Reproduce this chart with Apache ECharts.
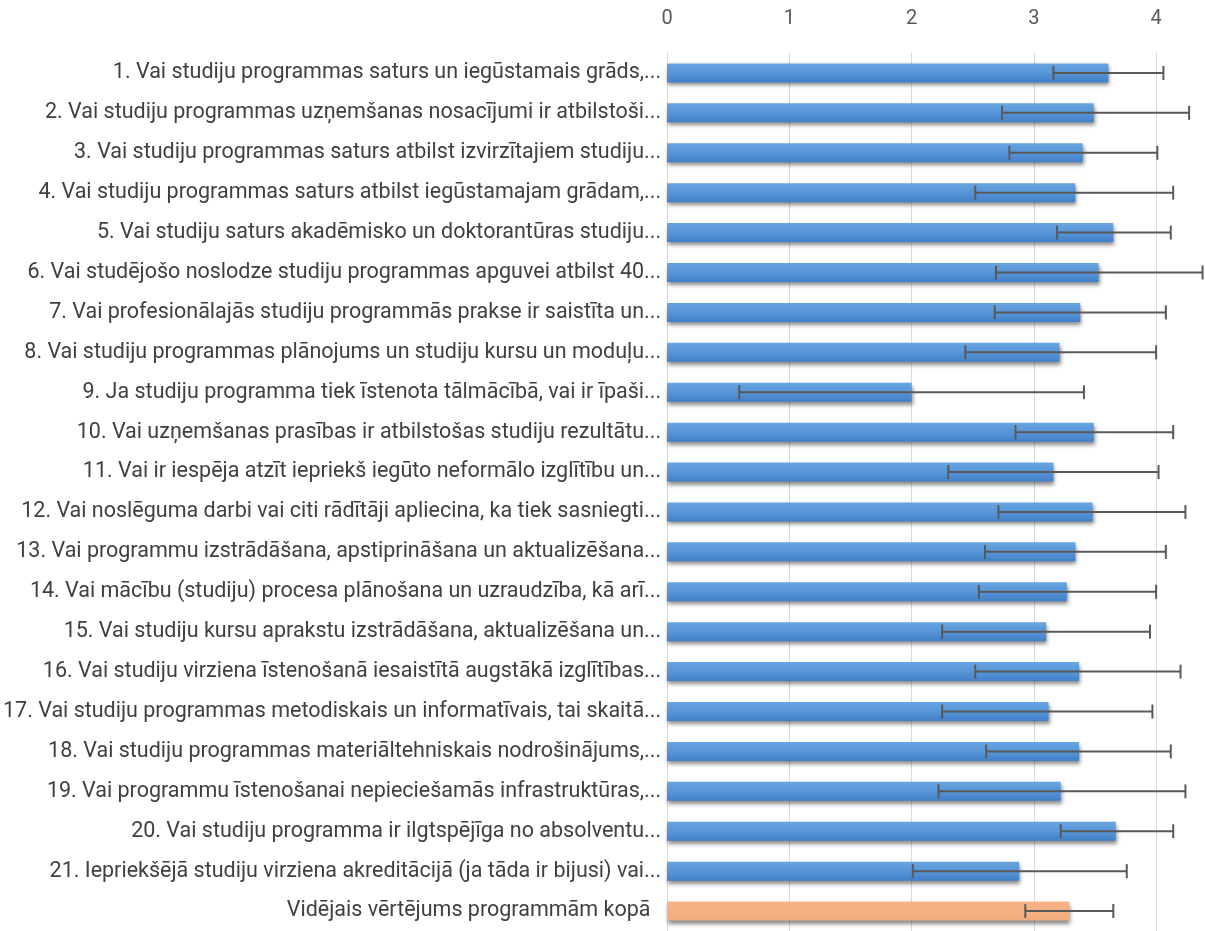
<!DOCTYPE html>
<html>
<head>
<meta charset="utf-8">
<script src="https://cdn.jsdelivr.net/npm/echarts@6/dist/echarts.min.js"></script>
<style>
html,body{margin:0;padding:0;background:#fff;}
#chart{width:1205px;height:931px;}
</style>
</head>
<body>
<div id="chart"></div>
<script>
const categories = [
  "1. Vai studiju programmas saturs un iegūstamais grāds,...",
  "2. Vai studiju programmas uzņemšanas nosacījumi ir atbilstoši...",
  "3. Vai studiju programmas saturs atbilst izvirzītajiem studiju...",
  "4. Vai studiju programmas saturs atbilst iegūstamajam grādam,...",
  "5. Vai studiju saturs akadēmisko un doktorantūras studiju...",
  "6. Vai studējošo noslodze studiju programmas apguvei atbilst 40...",
  "7. Vai profesionālajās studiju programmās prakse ir saistīta un...",
  "8. Vai studiju programmas plānojums un studiju kursu un moduļu...",
  "9. Ja studiju programma tiek īstenota tālmācībā, vai ir īpaši...",
  "10. Vai uzņemšanas prasības ir atbilstošas studiju rezultātu...",
  "11. Vai ir iespēja atzīt iepriekš iegūto neformālo izglītību un...",
  "12. Vai noslēguma darbi vai citi rādītāji apliecina, ka tiek sasniegti...",
  "13. Vai programmu izstrādāšana, apstiprināšana un aktualizēšana...",
  "14. Vai mācību (studiju) procesa plānošana un uzraudzība, kā arī...",
  "15. Vai studiju kursu aprakstu izstrādāšana, aktualizēšana un...",
  "16. Vai studiju virziena īstenošanā iesaistītā augstākā izglītības...",
  "17. Vai studiju programmas metodiskais un informatīvais, tai skaitā...",
  "18. Vai studiju programmas materiāltehniskais nodrošinājums,...",
  "19. Vai programmu īstenošanai nepieciešamās infrastruktūras,...",
  "20. Vai studiju programma ir ilgtspējīga no absolventu...",
  "21. Iepriekšējā studiju virziena akreditācijā (ja tāda ir bijusi) vai...",
  "Vidējais vērtējums programmām kopā\u00a0\u00a0"
];
const meanValues = [3.61, 3.49, 3.40, 3.34, 3.65, 3.53, 3.38, 3.21, 2.00, 3.49, 3.16,
                    3.48, 3.34, 3.27, 3.10, 3.37, 3.12, 3.37, 3.22, 3.67, 2.88, 3.29];
const errorLow  = [3.16, 2.74, 2.80, 2.52, 3.19, 2.69, 2.68, 2.44, 0.59, 2.85, 2.30,
                   2.71, 2.60, 2.55, 2.25, 2.52, 2.25, 2.61, 2.22, 3.22, 2.01, 2.93];
const errorHigh = [4.06, 4.27, 4.01, 4.14, 4.12, 4.38, 4.08, 4.00, 3.41, 4.14, 4.02,
                   4.24, 4.08, 4.00, 3.95, 4.20, 3.97, 4.12, 4.24, 4.14, 3.76, 3.65];
const xTicks = [0, 1, 2, 3, 4];

const blueGrad = new echarts.graphic.LinearGradient(0, 0, 0, 1, [
  {offset: 0, color: '#68a5e0'}, {offset: 0.5, color: '#5895d8'}, {offset: 1, color: '#4180c8'}
]);
const orangeGrad = new echarts.graphic.LinearGradient(0, 0, 0, 1, [
  {offset: 0, color: '#f6b587'}, {offset: 1, color: '#f1ab7b'}
]);

const barData = meanValues.map((v, i) => ({
  value: v,
  itemStyle: {color: i === meanValues.length - 1 ? orangeGrad : blueGrad}
}));
const errData = categories.map((c, i) => [i, errorLow[i], errorHigh[i]]);

const chart = echarts.init(document.getElementById('chart'));
chart.setOption({
  animation: false,
  grid: {left: 666, top: 53, width: 539, height: 880, containLabel: false},
  xAxis: {
    type: 'value', position: 'top', min: 0, max: 4.4, interval: 1,
    axisLine: {show: false}, axisTick: {show: false},
    splitLine: {show: true, lineStyle: {color: '#d9d9d9', width: 1}},
    axisLabel: {
      show: true, margin: 24, fontSize: 20, color: '#595959', fontFamily: 'Roboto',
      showMaxLabel: false,
      formatter: v => (xTicks.indexOf(v) >= 0 ? String(v) : '')
    }
  },
  yAxis: {
    type: 'category', inverse: true, data: categories,
    axisLine: {show: true, lineStyle: {color: '#d9d9d9', width: 1}},
    axisTick: {show: false},
    axisLabel: {margin: 6, fontSize: 21.5, color: '#404040', fontFamily: 'Roboto', interval: 0}
  },
  series: [
    {
      type: 'bar', data: barData, barWidth: 19,
      itemStyle: {shadowColor: 'rgba(0,0,0,0.45)', shadowBlur: 4, shadowOffsetX: 1, shadowOffsetY: 3}
    },
    {
      type: 'custom', clip: false, data: errData,
      encode: {x: [1, 2], y: 0},
      renderItem: function (params, api) {
        const idx = api.value(0);
        const a = api.coord([api.value(1), idx]);
        const b = api.coord([api.value(2), idx]);
        const h = 7;
        const style = {stroke: '#595959', lineWidth: 2};
        return {
          type: 'group',
          children: [
            {type: 'line', shape: {x1: a[0], y1: a[1], x2: b[0], y2: b[1]}, style: style},
            {type: 'line', shape: {x1: a[0], y1: a[1] - h, x2: a[0], y2: a[1] + h}, style: style},
            {type: 'line', shape: {x1: b[0], y1: b[1] - h, x2: b[0], y2: b[1] + h}, style: style}
          ]
        };
      },
      z: 5
    }
  ]
});
</script>
</body>
</html>
